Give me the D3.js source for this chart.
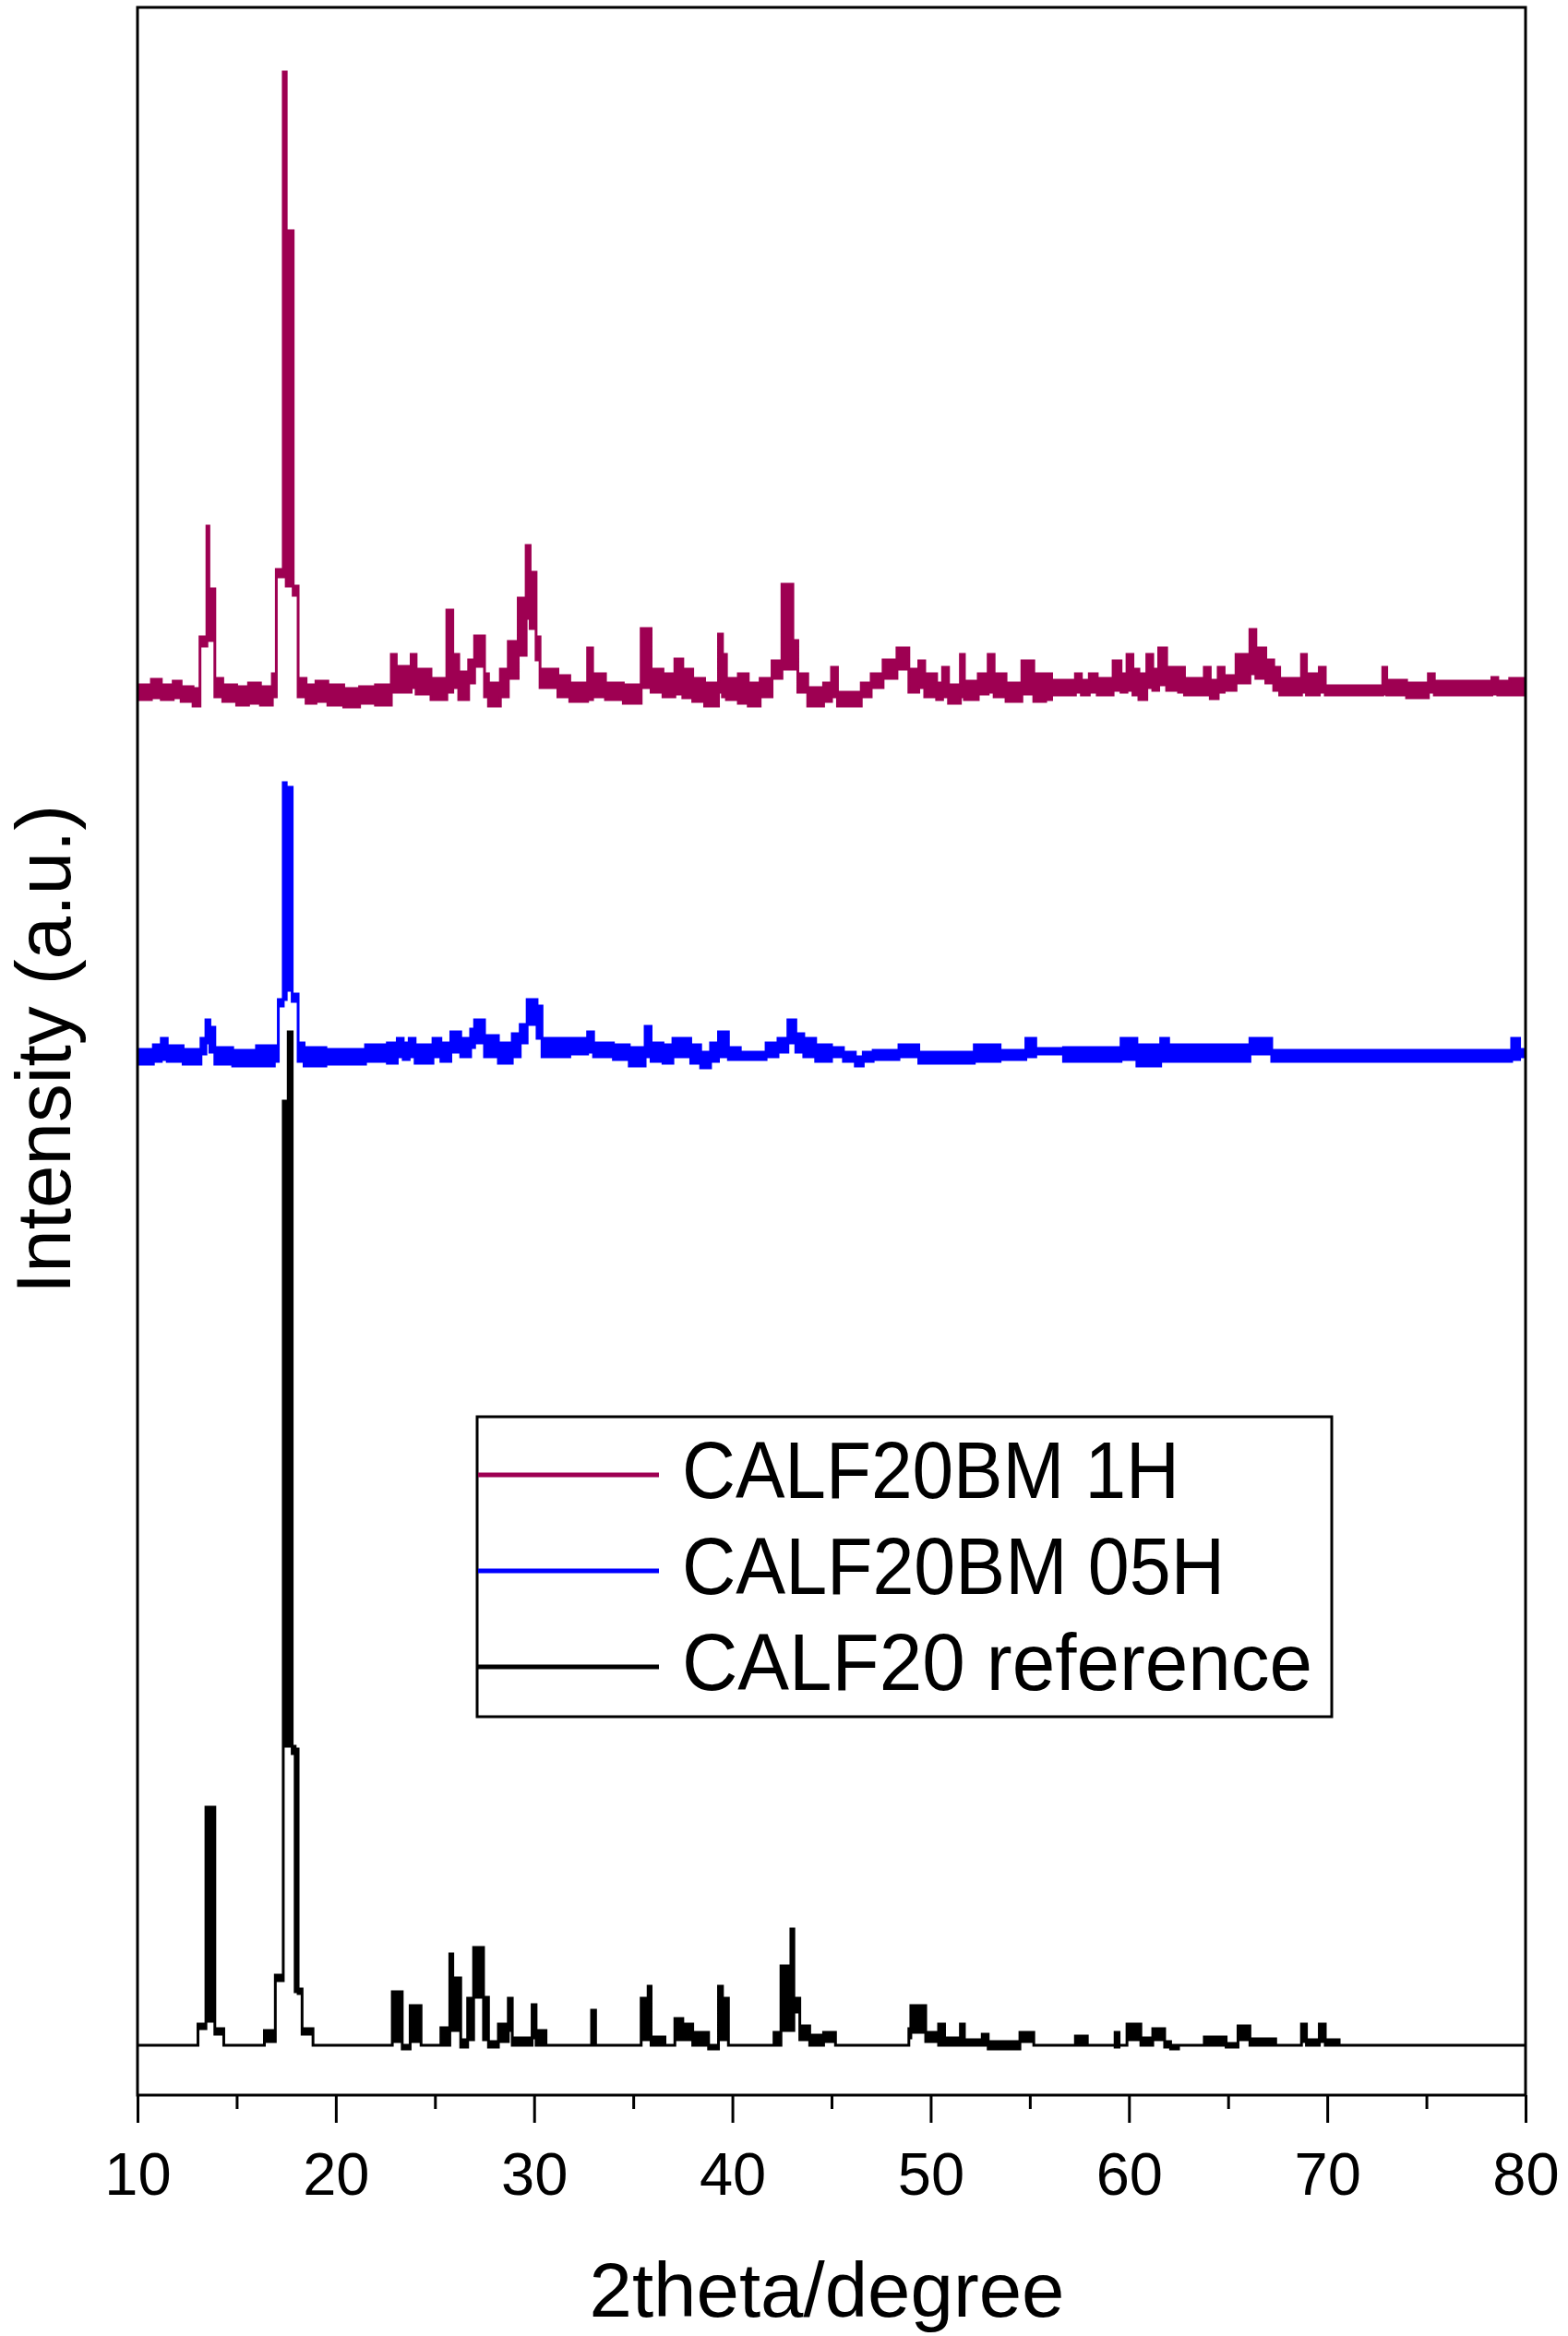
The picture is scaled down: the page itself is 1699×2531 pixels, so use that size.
<!DOCTYPE html>
<html>
<head>
<meta charset="utf-8">
<script src="https://cdn.jsdelivr.net/npm/d3@7"></script>
<style>
  body { margin: 0; background: #fff; }
  text { font-family: "Liberation Sans", Arial, sans-serif; fill: #000; }
</style>
</head>
<body>
<div class="chart"></div>
<script>
// XRD patterns, CALF-20 ball milled vs reference

// tick values
var xTicks = [10, 20, 30, 40, 50, 60, 70, 80];
var xMinorTicks = [15, 25, 35, 45, 55, 65, 75];

var seriesNames = ["CALF20BM 1H", "CALF20BM 05H", "CALF20 reference"];

// each row: [2theta, low, high] -- envelope of the noisy trace (a.u., offset stacked)
var bm1h = [
  [10.0, 1512, 1528], [10.7, 1514, 1534], [11.2, 1512, 1528], [11.8, 1514, 1532],
  [12.2, 1510, 1526], [12.8, 1505, 1524], [13.15, 1570, 1580], [13.5, 1576, 1700],
  [13.6, 1576, 1632], [13.9, 1515, 1535], [14.3, 1510, 1528], [15.0, 1506, 1526],
  [15.6, 1508, 1530], [16.2, 1506, 1526], [16.8, 1515, 1540], [17.0, 1645, 1653],
  [17.35, 1645, 2192], [17.5, 1635, 2020], [17.85, 1625, 1635], [18.1, 1515, 1535],
  [18.5, 1508, 1528], [19.0, 1510, 1532], [19.6, 1506, 1528], [20.4, 1504, 1524],
  [21.2, 1508, 1526], [22.0, 1506, 1528], [22.8, 1520, 1561], [23.05, 1520, 1548],
  [23.8, 1525, 1561], [24.05, 1518, 1545], [24.8, 1512, 1535], [25.6, 1520, 1609],
  [25.9, 1525, 1561], [26.2, 1512, 1542], [26.7, 1530, 1555], [27.0, 1548, 1581],
  [27.5, 1515, 1540], [27.7, 1505, 1530], [28.3, 1515, 1545], [28.7, 1535, 1575],
  [29.2, 1560, 1622], [29.6, 1600, 1679], [29.8, 1589, 1650], [30.1, 1555, 1580],
  [30.3, 1525, 1545], [31.2, 1515, 1538], [31.8, 1510, 1530], [32.7, 1512, 1568],
  [32.95, 1515, 1540], [33.6, 1512, 1530], [34.5, 1508, 1528], [35.4, 1525, 1589],
  [35.9, 1520, 1545], [36.5, 1515, 1540], [37.1, 1518, 1556], [37.5, 1514, 1545],
  [38.0, 1510, 1535], [38.6, 1505, 1530], [39.3, 1520, 1583], [39.5, 1515, 1561],
  [39.7, 1512, 1535], [40.3, 1508, 1540], [40.8, 1505, 1530], [41.4, 1515, 1535],
  [42.0, 1535, 1554], [42.5, 1545, 1637], [43.05, 1545, 1576], [43.3, 1520, 1540],
  [43.8, 1505, 1525], [44.6, 1510, 1530], [45.0, 1515, 1547], [45.3, 1505, 1520],
  [46.5, 1515, 1530], [47.0, 1525, 1540], [47.6, 1535, 1555], [48.3, 1545, 1568],
  [48.9, 1520, 1545], [49.4, 1525, 1554], [49.7, 1515, 1540], [50.3, 1512, 1530],
  [50.6, 1515, 1547], [50.9, 1508, 1528], [51.5, 1515, 1561], [51.7, 1512, 1532],
  [52.4, 1518, 1540], [52.9, 1520, 1561], [53.2, 1515, 1540], [53.8, 1510, 1530],
  [54.6, 1518, 1554], [55.2, 1510, 1540], [55.8, 1512, 1540], [56.1, 1517, 1533],
  [57.3, 1520, 1540], [57.6, 1517, 1533], [58.0, 1520, 1540], [58.4, 1517, 1535],
  [59.2, 1522, 1554], [59.6, 1520, 1540], [59.9, 1522, 1561], [60.2, 1517, 1545],
  [60.5, 1512, 1540], [60.9, 1525, 1561], [61.2, 1522, 1545], [61.5, 1528, 1568],
  [61.9, 1522, 1547], [62.5, 1520, 1547], [62.8, 1517, 1535], [63.8, 1517, 1547],
  [64.1, 1513, 1533], [64.5, 1520, 1547], [64.8, 1522, 1538], [65.4, 1530, 1561],
  [66.1, 1540, 1588], [66.4, 1535, 1568], [66.9, 1530, 1555], [67.3, 1522, 1547],
  [67.6, 1517, 1535], [68.7, 1520, 1561], [68.95, 1517, 1540], [69.6, 1520, 1547],
  [69.9, 1517, 1527], [72.8, 1518, 1547], [73.0, 1517, 1533], [74.0, 1514, 1530],
  [75.1, 1520, 1540], [75.4, 1517, 1532], [78.3, 1518, 1536], [78.6, 1517, 1532],
  [79.2, 1517, 1535], [80.0, 1517, 1535]
];

var bm05h = [
  [10.0, 1117, 1133], [10.8, 1120, 1138], [11.2, 1122, 1145], [11.5, 1120, 1137],
  [12.3, 1117, 1133], [13.2, 1128, 1145], [13.45, 1140, 1165], [13.65, 1130, 1157],
  [13.9, 1117, 1135], [14.8, 1115, 1132], [16.0, 1115, 1137], [16.9, 1120, 1137],
  [17.1, 1180, 1187], [17.35, 1187, 1422], [17.5, 1197, 1417], [17.8, 1185, 1193],
  [18.1, 1120, 1140], [18.4, 1115, 1135], [19.5, 1117, 1133], [21.5, 1120, 1138],
  [22.6, 1118, 1140], [23.1, 1125, 1145], [23.4, 1122, 1140], [23.7, 1125, 1145],
  [24.0, 1118, 1138], [24.9, 1125, 1145], [25.3, 1120, 1140], [25.8, 1130, 1152],
  [26.3, 1125, 1145], [26.8, 1135, 1155], [27.0, 1140, 1165], [27.5, 1125, 1148],
  [28.2, 1118, 1140], [28.9, 1125, 1150], [29.3, 1140, 1160], [29.65, 1160, 1187],
  [30.15, 1145, 1180], [30.4, 1125, 1145], [31.8, 1128, 1145], [32.7, 1130, 1152],
  [33.0, 1125, 1140], [34.0, 1122, 1138], [34.8, 1115, 1135], [35.6, 1125, 1158],
  [35.9, 1120, 1140], [36.5, 1118, 1138], [37.0, 1125, 1145], [37.9, 1118, 1138],
  [38.4, 1113, 1130], [38.9, 1120, 1140], [39.3, 1125, 1152], [39.8, 1122, 1135],
  [40.4, 1122, 1130], [41.7, 1125, 1140], [42.3, 1130, 1145], [42.8, 1140, 1165],
  [43.2, 1130, 1150], [43.6, 1125, 1145], [44.2, 1120, 1138], [45.0, 1125, 1135],
  [45.6, 1120, 1130], [46.2, 1115, 1125], [46.6, 1120, 1130], [47.1, 1122, 1132],
  [48.4, 1125, 1138], [49.4, 1118, 1130], [52.2, 1120, 1138], [53.5, 1122, 1132],
  [54.8, 1125, 1145], [55.3, 1128, 1134], [56.7, 1120, 1135], [59.6, 1122, 1145],
  [60.4, 1115, 1138], [61.6, 1120, 1145], [62.0, 1120, 1138], [66.1, 1128, 1145],
  [67.2, 1120, 1132], [79.3, 1122, 1145], [79.7, 1125, 1133], [80.0, 1125, 1133]
];

var calf20Ref = [
  [10.0, 54, 54], [13.05, 72, 77], [13.45, 80, 312], [13.9, 66, 72],
  [14.35, 54, 54], [16.4, 58, 70], [16.95, 124, 130], [17.35, 378, 1077],
  [17.6, 378, 1152], [17.8, 370, 378], [17.95, 112, 375], [18.1, 110, 115],
  [18.3, 66, 72], [18.85, 54, 54], [22.85, 58, 112], [23.35, 50, 54],
  [23.75, 58, 97], [24.3, 54, 54], [25.3, 54, 73], [25.75, 70, 153],
  [25.9, 70, 127], [26.3, 52, 60], [26.65, 60, 105], [26.95, 106, 160],
  [27.45, 60, 106], [27.7, 52, 58], [28.2, 58, 77], [28.7, 70, 105],
  [28.9, 54, 62], [29.9, 62, 98], [30.1, 54, 70], [30.6, 54, 54],
  [32.9, 54, 92], [33.1, 54, 54], [35.4, 60, 105], [35.75, 60, 118],
  [35.9, 54, 63], [36.6, 54, 54], [37.1, 60, 83], [37.5, 60, 77],
  [38.0, 54, 68], [38.8, 50, 54], [39.3, 60, 118], [39.5, 60, 105],
  [39.8, 54, 54], [42.1, 54, 68], [42.45, 70, 140], [42.95, 70, 180],
  [43.1, 90, 105], [43.4, 60, 75], [43.9, 54, 65], [44.6, 58, 68],
  [45.2, 54, 54], [48.9, 62, 72], [49.0, 68, 97], [49.75, 58, 68],
  [50.4, 54, 77], [50.7, 54, 62], [51.5, 54, 77], [51.7, 54, 60],
  [52.6, 54, 66], [52.9, 50, 58], [54.5, 58, 68], [55.2, 54, 54],
  [57.3, 54, 64], [57.9, 54, 54], [59.3, 52, 68], [59.5, 54, 54],
  [59.9, 60, 77], [60.6, 54, 62], [61.2, 60, 72], [61.8, 52, 58],
  [62.1, 50, 54], [62.5, 54, 54], [63.8, 54, 63], [64.9, 52, 56],
  [65.5, 60, 75], [66.1, 54, 61], [67.4, 54, 54], [68.7, 58, 77],
  [68.95, 54, 60], [69.6, 58, 77], [69.9, 54, 60], [70.6, 54, 54],
  [80.0, 54, 54]
];

var colors = ["#9e0052", "#0000ff", "#000000"];

// SVG area
var svgWidth = 1699;
var svgHeight = 2531;

var margin = { top: 8, right: 46, bottom: 261, left: 149 };
var width = svgWidth - margin.left - margin.right;
var height = svgHeight - margin.top - margin.bottom;

var svg = d3.select(".chart")
  .append("svg")
  .attr("width", svgWidth)
  .attr("height", svgHeight)
  .style("background", "#fff");

var chartGroup = svg.append("g")
  .attr("transform", `translate(${margin.left}, ${margin.top})`);

// scales
var xScale = d3.scaleLinear().domain([10, 80]).range([0, width]);
var yScale = d3.scaleLinear().domain([0, height]).range([height, 0]);

chartGroup.append("clipPath").attr("id", "plot-clip")
  .append("rect").attr("width", width).attr("height", height);

// traces drawn as step envelopes
var area = d3.area()
  .curve(d3.curveStepAfter)
  .x(d => xScale(d[0]))
  .y0(d => yScale(d[1]))
  .y1(d => yScale(d[2]));

var traces = [calf20Ref, bm05h, bm1h];
var traceColors = [colors[2], colors[1], colors[0]];

chartGroup.append("g")
  .attr("clip-path", "url(#plot-clip)")
  .selectAll("path")
  .data(traces)
  .enter()
  .append("path")
  .attr("d", area)
  .attr("fill", (d, i) => traceColors[i])
  .attr("stroke", (d, i) => traceColors[i])
  .attr("stroke-width", 3)
  .attr("stroke-linejoin", "miter");

// frame
chartGroup.append("rect")
  .attr("width", width)
  .attr("height", height)
  .attr("fill", "none")
  .attr("stroke", "#000")
  .attr("stroke-width", 3);

// x axis, major + minor ticks
var bottomAxis = d3.axisBottom(xScale)
  .tickValues(xTicks)
  .tickSize(30)
  .tickPadding(32)
  .tickFormat(d3.format("d"));

var xAxisG = chartGroup.append("g")
  .attr("transform", `translate(0, ${height})`)
  .call(bottomAxis);
xAxisG.select(".domain").remove();
xAxisG.selectAll("line").attr("stroke-width", 3);
xAxisG.selectAll("text")
  .attr("font-size", 65)
  .attr("font-family", "Liberation Sans, Arial, sans-serif")
  .attr("fill", "#222");

var minorAxisG = chartGroup.append("g")
  .attr("transform", `translate(0, ${height})`)
  .call(d3.axisBottom(xScale).tickValues(xMinorTicks).tickSize(15).tickFormat(""));
minorAxisG.select(".domain").remove();
minorAxisG.selectAll("line").attr("stroke-width", 3);

// axis titles
svg.append("text")
  .attr("x", 896)
  .attr("y", 2510)
  .attr("text-anchor", "middle")
  .attr("font-size", 84)
  .attr("textLength", 515)
  .attr("lengthAdjust", "spacingAndGlyphs")
  .attr("fill", "#222")
  .text("2theta/degree");

svg.append("text")
  .attr("transform", "translate(76, 1137) rotate(-90)")
  .attr("text-anchor", "middle")
  .attr("font-size", 84)
  .attr("textLength", 530)
  .attr("lengthAdjust", "spacingAndGlyphs")
  .attr("fill", "#222")
  .text("Intensity (a.u.)");

// legend
var legendTextLengths = [539, 588, 683];
var legend = svg.append("g").attr("transform", "translate(517, 1535)");

legend.append("rect")
  .attr("width", 926)
  .attr("height", 325)
  .attr("fill", "#fff")
  .attr("stroke", "#000")
  .attr("stroke-width", 3);

var legendRows = legend.selectAll(".legend-row")
  .data(seriesNames)
  .enter()
  .append("g")
  .attr("class", "legend-row")
  .attr("transform", (d, i) => `translate(0, ${63 + i * 104})`);

legendRows.append("line")
  .attr("x1", 1)
  .attr("x2", 197)
  .attr("stroke", (d, i) => colors[i])
  .attr("stroke-width", 5);

legendRows.append("text")
  .attr("x", 222)
  .attr("y", 25)
  .attr("font-size", 88)
  .attr("textLength", (d, i) => legendTextLengths[i])
  .attr("lengthAdjust", "spacingAndGlyphs")
  .text(d => d);
</script>
</body>
</html>
